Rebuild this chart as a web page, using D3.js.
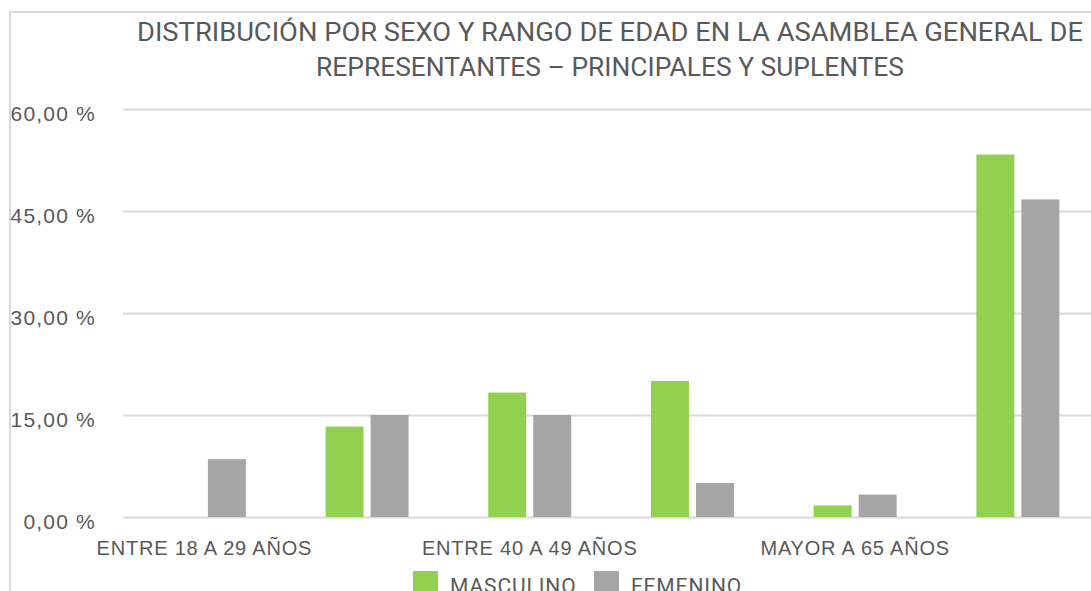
<!DOCTYPE html>
<html>
<head>
<meta charset="utf-8">
<script src="https://cdn.jsdelivr.net/npm/d3@7"></script>
<style>
    body { margin: 0; background: #fff; }
    svg { display: block; font-family: Roboto, "Liberation Sans", sans-serif; }
</style>
</head>
<body>
<div id="chart"></div>
<script>
// data
const categories = ["ENTRE 18 A 29 AÑOS", "ENTRE 30 A 39 AÑOS", "ENTRE 40 A 49 AÑOS",
    "ENTRE 50 A 65 AÑOS", "MAYOR A 65 AÑOS", "TOTAL"];
const series = ["MASCULINO", "FEMENINO"];
const masculino = [0, 13.3, 18.3, 20.0, 1.7, 53.3];
const femenino = [8.5, 15.0, 15.0, 5.0, 3.3, 46.7];
const yTicks = [0, 15, 30, 45, 60];
const titleLines = ["DISTRIBUCIÓN POR SEXO Y RANGO DE EDAD EN LA ASAMBLEA GENERAL DE",
    "REPRESENTANTES – PRINCIPALES Y SUPLENTES"];

const colors = {"MASCULINO": "#92d050", "FEMENINO": "#a5a5a5"};
const textColor = "#595959";
const gridColor = "#d9d9d9";

const width = 1091, height = 591;

const svg = d3.select("#chart")
    .append("svg")
    .attr("width", width)
    .attr("height", height);

// outer frame (cut at the right and bottom in the reference)
svg.append("rect")
    .attr("x", 10)
    .attr("y", 12)
    .attr("width", 1200)
    .attr("height", 800)
    .attr("fill", "none")
    .attr("stroke", gridColor)
    .attr("stroke-width", 2);

// title
const titleSpec = [{y: 41, len: 946}, {y: 76, len: 588}];
svg.selectAll(".title")
    .data(titleLines)
    .join("text")
    .attr("class", "title")
    .attr("x", 610)
    .attr("y", (d, i) => titleSpec[i].y)
    .attr("text-anchor", "middle")
    .attr("textLength", (d, i) => titleSpec[i].len)
    .attr("lengthAdjust", "spacingAndGlyphs")
    .style("font-size", "25px")
    .style("fill", textColor)
    .text(d => d);

const x0 = d3.scaleBand()
    .domain(categories)
    .range([123, 123 + 6 * 162.7])
    .padding(0);

const x1 = d3.scaleBand()
    .domain(series)
    .range([0, x0.bandwidth()])
    .paddingInner(0.156)
    .paddingOuter(0.886);

const y = d3.scaleLinear()
    .domain([0, 60])
    .range([517, 109]);

const fmt = v => v.toFixed(2).replace(".", ",") + " %";

// gridlines + y labels
const yAxis = svg.append("g")
    .attr("transform", "translate(123,0)")
    .call(d3.axisLeft(y).tickValues(yTicks).tickSize(-1000).tickPadding(27).tickFormat(fmt));
yAxis.select(".domain").remove();
yAxis.selectAll("line")
    .attr("stroke", gridColor)
    .attr("stroke-width", 2);
yAxis.selectAll("text")
    .attr("dy", 11)
    .style("font-size", "21px")
    .style("letter-spacing", "1.2px")
    .style("fill", textColor);

// bars
const rows = categories.map((c, i) => ({cat: c, values: [
    {key: "MASCULINO", value: masculino[i]},
    {key: "FEMENINO", value: femenino[i]}
]}));

svg.append("g")
    .selectAll("g")
    .data(rows)
    .join("g")
    .attr("transform", d => `translate(${x0(d.cat)},0)`)
    .selectAll("rect")
    .data(d => d.values)
    .join("rect")
    .attr("x", d => x1(d.key))
    .attr("y", d => y(d.value))
    .attr("width", x1.bandwidth())
    .attr("height", d => y(0) - y(d.value))
    .attr("fill", d => colors[d.key]);

// category labels, only every other one fits
const xAxis = svg.append("g")
    .attr("transform", "translate(0,517)")
    .call(d3.axisBottom(x0).tickValues(categories.filter((c, i) => i % 2 === 0)).tickSize(0).tickPadding(0));
xAxis.select(".domain").remove();
xAxis.selectAll("text")
    .attr("y", 38)
    .attr("dy", 0)
    .style("font-size", "20px")
    .style("letter-spacing", "0.8px")
    .style("fill", textColor);

// legend
const legendX = [413, 594];
const legend = svg.append("g")
    .selectAll("g")
    .data(series)
    .join("g")
    .attr("transform", (d, i) => `translate(${legendX[i]},571)`);
legend.append("rect")
    .attr("width", 25)
    .attr("height", 25)
    .attr("fill", d => colors[d]);
legend.append("text")
    .attr("x", 37)
    .attr("y", 22)
    .style("font-size", "21px")
    .style("letter-spacing", "0.9px")
    .style("fill", textColor)
    .text(d => d);
</script>
</body>
</html>
